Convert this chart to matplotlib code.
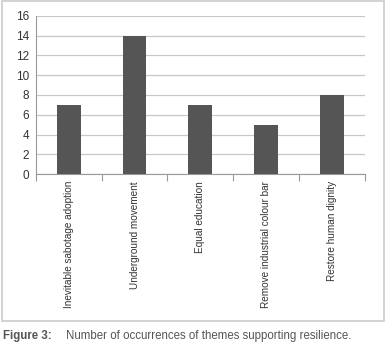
import matplotlib.pyplot as plt
from matplotlib.patches import Rectangle
from matplotlib.ticker import FixedLocator

themes = ['Inevitable sabotage adoption', 'Underground movement', 'Equal education',
          'Remove industrial colour bar', 'Restore human dignity']
counts = [7, 14, 7, 5, 8]

plt.rcParams['font.family'] = ['Liberation Sans Narrow', 'Liberation Sans', 'DejaVu Sans']

fig = plt.figure(figsize=(3.86, 3.46), dpi=100)
ax = fig.add_axes([0.093, 0.497, 0.852, 0.457])

x = range(len(themes))
ax.bar(x, counts, width=0.36, color='#555555', zorder=3)

ax.set_xlim(-0.5, len(themes) - 0.5)
ax.set_ylim(0, 16)
ax.set_yticks(range(0, 17, 2))
ax.yaxis.grid(True, color='#c8c8c8', linewidth=0.9, zorder=0)
ax.tick_params(axis='y', length=0, labelsize=8.5, labelcolor='#333333', pad=5)

ax.set_xticks(list(x))
ax.set_xticklabels(themes, rotation=90, fontsize=7.2, color='#333333')
ax.tick_params(axis='x', which='major', length=0, pad=5)
ax.xaxis.set_minor_locator(FixedLocator([i - 0.5 for i in range(len(themes) + 1)]))
ax.tick_params(axis='x', which='minor', length=5, color='#999999', width=0.8)

for side in ['top', 'right']:
    ax.spines[side].set_visible(False)
ax.spines['left'].set_color('#999999')
ax.spines['bottom'].set_color('#999999')

fig.patches.append(Rectangle((0.004, 0.072), 0.99, 0.924, transform=fig.transFigure,
                             fill=False, edgecolor='#cccccc', linewidth=1.2))

fig.text(0.008, 0.03, 'Figure 3:', fontsize=8.3, fontweight='bold', color='#555555', va='center')
fig.text(0.172, 0.03, 'Number of occurrences of themes supporting resilience.',
         fontsize=8.3, color='#555555', va='center')

fig.savefig('out.png', dpi=100)
